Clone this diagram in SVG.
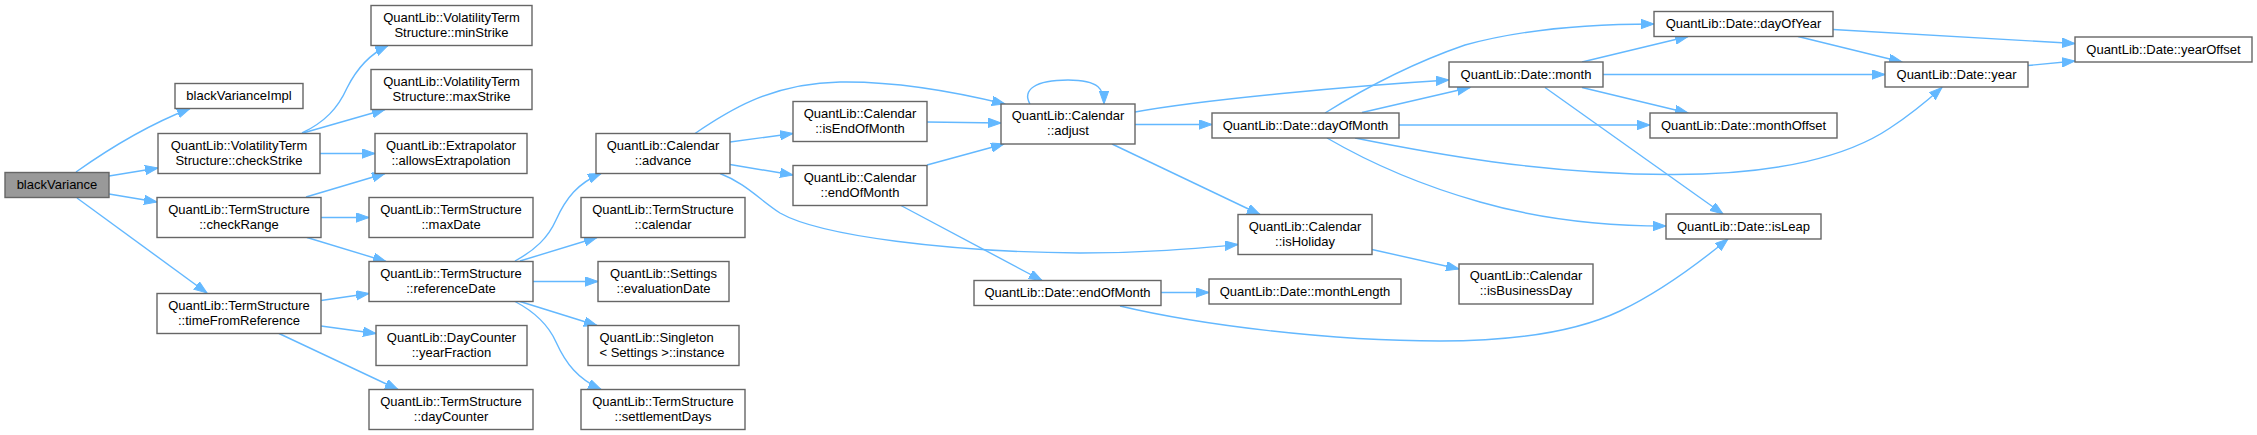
<svg xmlns="http://www.w3.org/2000/svg" width="2257" height="435" viewBox="0 0 2257 435">
<style>
.n rect{fill:#ffffff;stroke:#666666;stroke-width:1.4}
.root rect{fill:#999999}
text{font-family:"Liberation Sans",Arial,sans-serif;font-size:13px;fill:#000000;text-anchor:middle}
.e path{fill:none;stroke:#63b8ff;stroke-width:1.4;marker-end:url(#a)}
</style>
<defs>
<marker id="a" markerWidth="14" markerHeight="10" refX="13" refY="4.7" orient="auto" markerUnits="userSpaceOnUse"><path d="M0,0 L13,4.7 L0,9.4 z" fill="#63b8ff" stroke="#63b8ff"/></marker>
</defs>
<g class="e" id="edges">
<path d="M76,172 C100,155 140,128 190,108.5"/>
<path d="M109,176 L158,168"/>
<path d="M109,194 L157,202"/>
<path d="M77,198 L207,293"/>
<path d="M302,133 C325,122 338,108 347,88 C357,68 370,54 388,45.5"/>
<path d="M303,133 L385,109.5"/>
<path d="M320,153.5 L375,153.5"/>
<path d="M306,197 L385,173.5"/>
<path d="M321,217.5 L369,217.5"/>
<path d="M307,237.5 L386,261.5"/>
<path d="M321,300.5 L369,293.5"/>
<path d="M321,326 L376,333.5"/>
<path d="M279,333.5 L398,389.5"/>
<path d="M515,261 C535,250 548,238 556,220 C566,198 578,183 601,173.5"/>
<path d="M520,261 L597,237.5"/>
<path d="M533,281.5 L598,281.5"/>
<path d="M520,301.5 L597,325.5"/>
<path d="M515,301.5 C535,312 548,324 556,342 C566,364 578,379 601,389.5"/>
<path d="M695,133.5 C725,113 770,83 840,82 C900,81 960,93 1005,104"/>
<path d="M730,142 L793,133.5"/>
<path d="M730,164.5 L793,175"/>
<path d="M720,173.5 C745,183 760,200 780,213 C820,236 950,252 1080,253 C1150,253 1200,248 1238,244.5"/>
<path d="M927,122 L1001,123"/>
<path d="M927,165 L1004,144"/>
<path d="M900,205 L1042,280.5"/>
<path d="M1030,104 C1022,90 1035,80 1068,80 C1100,80 1104,90 1104,104"/>
<path d="M1135,112 C1200,100 1350,86 1449,80"/>
<path d="M1135,124.5 L1212,124.5"/>
<path d="M1112,144 L1260,214.5"/>
<path d="M1325,113 C1365,88 1410,64 1465,45 C1530,27 1600,24 1654,24"/>
<path d="M1362,112.5 L1470,87.5"/>
<path d="M1399,125 L1650,125"/>
<path d="M1355,138 C1430,153 1540,174 1670,174.5 C1780,175 1850,155 1890,128 C1910,115 1928,100 1942,87.5"/>
<path d="M1327,138 C1370,163 1420,185 1480,202 C1550,222 1620,226 1666,226"/>
<path d="M1582,62 L1688,36.5"/>
<path d="M1603,74.5 L1885,74.5"/>
<path d="M1582,87.5 L1688,113"/>
<path d="M1545,87.5 L1723,214"/>
<path d="M1798,36.5 L1902,62"/>
<path d="M1833,29.5 L2075,43.5"/>
<path d="M2028,65.5 L2075,61"/>
<path d="M1372,249.5 L1459,269"/>
<path d="M1161,292.5 L1209,292.5"/>
<path d="M1120,306 C1200,325 1330,341 1440,341 C1520,341 1580,330 1620,311 C1660,292 1700,262 1728,239"/>
</g>
<g class="n root" id="n0"><rect x="5" y="172.5" width="104" height="25"/><text x="57" y="189">blackVariance</text></g>
<g class="n" id="n1"><rect x="175" y="83.5" width="128" height="25"/><text x="239" y="100">blackVarianceImpl</text></g>
<g class="n" id="n2"><rect x="158" y="133.5" width="162" height="40"/><text x="239" y="149.5">QuantLib::VolatilityTerm</text><text x="239" y="164.5">Structure::checkStrike</text></g>
<g class="n" id="n3"><rect x="157" y="197.5" width="164" height="40"/><text x="239" y="213.5">QuantLib::TermStructure</text><text x="239" y="228.5">::checkRange</text></g>
<g class="n" id="n4"><rect x="157" y="293.5" width="164" height="40"/><text x="239" y="309.5">QuantLib::TermStructure</text><text x="239" y="324.5">::timeFromReference</text></g>
<g class="n" id="n5"><rect x="371" y="5.5" width="161" height="40"/><text x="451.5" y="21.5">QuantLib::VolatilityTerm</text><text x="451.5" y="36.5">Structure::minStrike</text></g>
<g class="n" id="n6"><rect x="371" y="69.5" width="161" height="40"/><text x="451.5" y="85.5">QuantLib::VolatilityTerm</text><text x="451.5" y="100.5">Structure::maxStrike</text></g>
<g class="n" id="n7"><rect x="375" y="133.5" width="152" height="40"/><text x="451" y="149.5">QuantLib::Extrapolator</text><text x="451" y="164.5">::allowsExtrapolation</text></g>
<g class="n" id="n8"><rect x="369" y="197.5" width="164" height="40"/><text x="451" y="213.5">QuantLib::TermStructure</text><text x="451" y="228.5">::maxDate</text></g>
<g class="n" id="n9"><rect x="369" y="261.5" width="164" height="40"/><text x="451" y="277.5">QuantLib::TermStructure</text><text x="451" y="292.5">::referenceDate</text></g>
<g class="n" id="n10"><rect x="376" y="325.5" width="151" height="40"/><text x="451.5" y="341.5">QuantLib::DayCounter</text><text x="451.5" y="356.5">::yearFraction</text></g>
<g class="n" id="n11"><rect x="369" y="389.5" width="164" height="40"/><text x="451" y="405.5">QuantLib::TermStructure</text><text x="451" y="420.5">::dayCounter</text></g>
<g class="n" id="n12"><rect x="596" y="133.5" width="134" height="40"/><text x="663" y="149.5">QuantLib::Calendar</text><text x="663" y="164.5">::advance</text></g>
<g class="n" id="n13"><rect x="581" y="197.5" width="164" height="40"/><text x="663" y="213.5">QuantLib::TermStructure</text><text x="663" y="228.5">::calendar</text></g>
<g class="n" id="n14"><rect x="598" y="261.5" width="131" height="40"/><text x="663.5" y="277.5">QuantLib::Settings</text><text x="663.5" y="292.5">::evaluationDate</text></g>
<g class="n" id="n15"><rect x="588" y="325.5" width="151" height="40"/><text x="599.5" y="341.5" style="text-anchor:start">QuantLib::Singleton</text><text x="599.5" y="356.5" style="text-anchor:start">&lt; Settings &gt;::instance</text></g>
<g class="n" id="n16"><rect x="581" y="389.5" width="164" height="40"/><text x="663" y="405.5">QuantLib::TermStructure</text><text x="663" y="420.5">::settlementDays</text></g>
<g class="n" id="n17"><rect x="793" y="101.5" width="134" height="40"/><text x="860" y="117.5">QuantLib::Calendar</text><text x="860" y="132.5">::isEndOfMonth</text></g>
<g class="n" id="n18"><rect x="793" y="165.5" width="134" height="40"/><text x="860" y="181.5">QuantLib::Calendar</text><text x="860" y="196.5">::endOfMonth</text></g>
<g class="n" id="n19"><rect x="1001" y="104" width="134" height="40"/><text x="1068" y="120">QuantLib::Calendar</text><text x="1068" y="135">::adjust</text></g>
<g class="n" id="n20"><rect x="974" y="280.5" width="187" height="25"/><text x="1067.5" y="297">QuantLib::Date::endOfMonth</text></g>
<g class="n" id="n21"><rect x="1212" y="113" width="187" height="25"/><text x="1305.5" y="129.5">QuantLib::Date::dayOfMonth</text></g>
<g class="n" id="n22"><rect x="1238" y="214.5" width="134" height="40"/><text x="1305" y="230.5">QuantLib::Calendar</text><text x="1305" y="245.5">::isHoliday</text></g>
<g class="n" id="n23"><rect x="1209" y="279" width="192" height="25"/><text x="1305" y="295.5">QuantLib::Date::monthLength</text></g>
<g class="n" id="n24"><rect x="1654" y="11.5" width="179" height="25"/><text x="1743.5" y="28">QuantLib::Date::dayOfYear</text></g>
<g class="n" id="n25"><rect x="1449" y="62" width="154" height="25"/><text x="1526" y="78.5">QuantLib::Date::month</text></g>
<g class="n" id="n26"><rect x="1650" y="113" width="187" height="25"/><text x="1743.5" y="129.5">QuantLib::Date::monthOffset</text></g>
<g class="n" id="n27"><rect x="1666" y="214" width="155" height="25"/><text x="1743.5" y="230.5">QuantLib::Date::isLeap</text></g>
<g class="n" id="n28"><rect x="1459" y="264" width="134" height="40"/><text x="1526" y="280">QuantLib::Calendar</text><text x="1526" y="295">::isBusinessDay</text></g>
<g class="n" id="n29"><rect x="1885" y="62" width="143" height="25"/><text x="1956.5" y="78.5">QuantLib::Date::year</text></g>
<g class="n" id="n30"><rect x="2075" y="37" width="177" height="25"/><text x="2163.5" y="53.5">QuantLib::Date::yearOffset</text></g>
</svg>
